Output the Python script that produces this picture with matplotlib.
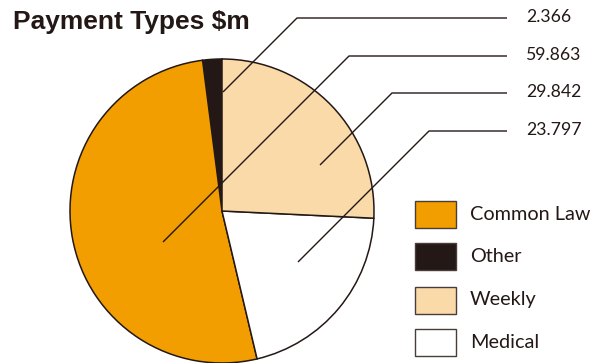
import matplotlib.pyplot as plt
from matplotlib.patches import Rectangle

# payment types ($m), legend order
categories = ["Common Law", "Other", "Weekly", "Medical"]
values = [59.863, 2.366, 29.842, 23.797]
colors = ["#F29E00", "#231815", "#F9DAA8", "#FFFFFF"]

# order going anticlockwise from 12 o'clock
pie_order = ["Other", "Common Law", "Medical", "Weekly"]
# order of the value labels top to bottom
label_order = ["Other", "Common Law", "Weekly", "Medical"]

W, H = 603, 363
ink = "#231815"


def Y(y):
    # pixel row (from top) -> axis y
    return H - y


fig = plt.figure(figsize=(W / 100, H / 100), dpi=100)
ax = fig.add_axes([0, 0, 1, 1])

idx = [categories.index(c) for c in pie_order]
wedges, _ = ax.pie([values[i] for i in idx], colors=[colors[i] for i in idx],
                   startangle=90, counterclock=True, center=(222, Y(211)),
                   radius=152, wedgeprops=dict(edgecolor=ink, linewidth=1.1))
for w in wedges:
    w.set_clip_on(False)

# pie() sets its own limits, so fix the pixel frame afterwards
ax.set_xlim(0, W)
ax.set_ylim(0, H)
ax.set_aspect("equal")
ax.axis("off")

ax.text(13, Y(22), "Payment Types $m", fontsize=19, fontweight="bold",
        family="Liberation Sans", color=ink, va="center", ha="left")

# leader lines: anchor in the slice -> elbow -> label
anchors = {"Other": (223, 92), "Common Law": (163, 242),
           "Weekly": (320, 165), "Medical": (298, 262)}
rows = [18, 56, 93, 131]
for name, row in zip(label_order, rows):
    ax0, ay0 = anchors[name]
    elbow_x = ax0 + (ay0 - row)
    ax.plot([ax0, elbow_x, 507], [Y(ay0), Y(row), Y(row)], color=ink,
            linewidth=1.0, solid_capstyle="butt")
    ax.text(526, Y(row - 1), "%.3f" % values[categories.index(name)],
            fontsize=12.7, family="Lato", color=ink, va="center", ha="left")

# legend boxes
box_tops = [201, 243, 287, 329]
for name, top in zip(categories, box_tops):
    c = colors[categories.index(name)]
    ax.add_patch(Rectangle((415, Y(top + 27)), 41, 27, facecolor=c,
                           edgecolor="#4a3c38", linewidth=1.0))
    ax.text(470, Y(top + 13), name, fontsize=14.3, family="Lato",
            color=ink, va="center", ha="left")

fig.savefig("out.png", dpi=100)
